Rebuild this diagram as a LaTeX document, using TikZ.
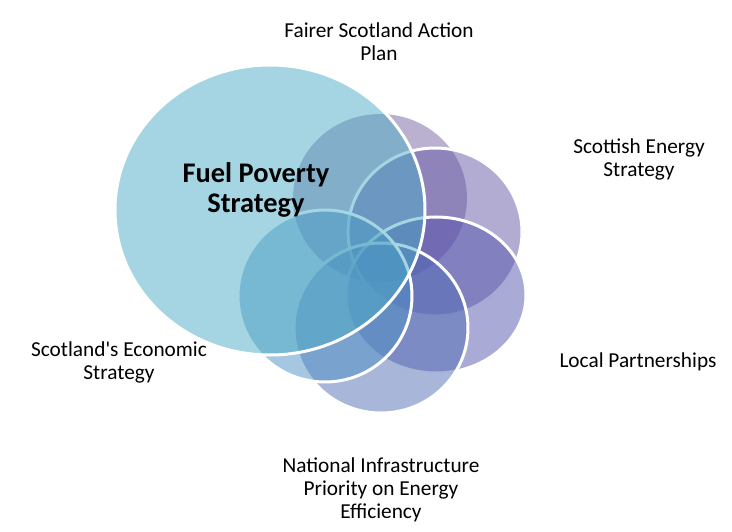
\documentclass[tikz,border=0pt]{standalone}
\usepackage{fontspec}
\setmainfont{Carlito}
\definecolor{fuelblue}{RGB}{75,172,198}
\definecolor{fairerpurple}{RGB}{117,97,161}
\definecolor{energypurple}{RGB}{101,89,165}
\definecolor{localpurple}{RGB}{85,85,173}
\definecolor{nationalblue}{RGB}{81,109,181}
\definecolor{economicblue}{RGB}{77,143,195}
\begin{document}
\begin{tikzpicture}[x=1pt,y=-1pt,
  venn/.style={fill=#1,fill opacity=0.5,draw=white,draw opacity=1,line width=3pt},
  label/.style={anchor=base,align=center,font=\fontsize{21.3}{23}\selectfont}]
\useasboundingbox (0,0) rectangle (732,532);
% Draw the five satellite circles, back to front
\fill[fairerpurple,fill opacity=0.5] (380,198) ellipse [x radius=87pt,y radius=84pt];
\path[venn=energypurple] (435,232) ellipse [x radius=87pt,y radius=84pt];
\path[venn=localpurple] (436,295) ellipse [x radius=90pt,y radius=78pt];
\path[venn=nationalblue] (381,328) ellipse [x radius=87pt,y radius=85pt];
\path[venn=economicblue] (325,296) ellipse [x radius=87pt,y radius=86pt];
% Big ellipse on top
\path[venn=fuelblue] (270,210) ellipse [x radius=155pt,y radius=145pt];

% Labels (base anchor sits on the last line)
\node[label,font=\bfseries\fontsize{28.4}{30}\selectfont] (fuel) at (256,213) {Fuel Poverty\\Strategy};
\node[label] (fairer) at (379,60.5) {Fairer Scotland Action\\Plan};
\node[label] (energy) at (639,177) {Scottish Energy\\Strategy};
\node[label] (local) at (638,367) {Local Partnerships};
\node[label] (national) at (381,518) {National Infrastructure\\Priority on Energy\\Efficiency};
\node[label] (economic) at (119,379) {Scotland\textquotesingle s Economic\\Strategy};
\end{tikzpicture}
\end{document}
